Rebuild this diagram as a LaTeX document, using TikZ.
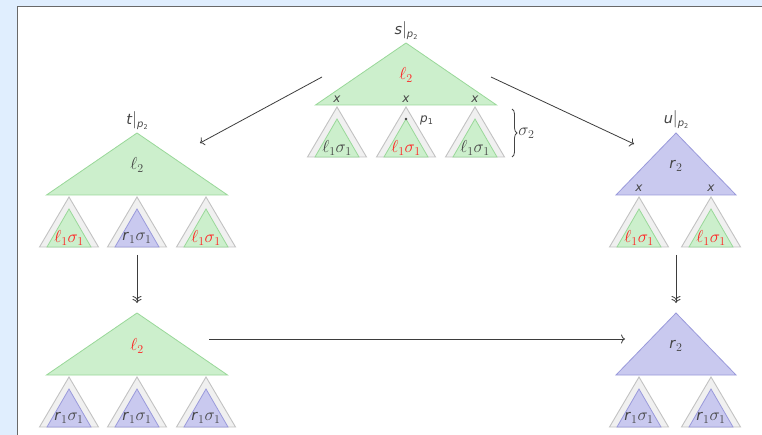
\documentclass[tikz,border=0pt]{standalone}
\usepackage{fontspec}
\setmainfont{DejaVu Sans}
\usetikzlibrary{decorations.pathreplacing,arrows.meta}
\definecolor{paneblue}{HTML}{E0EEFE}
\definecolor{lgreen}{HTML}{CCEFCC}
\definecolor{dgreen}{HTML}{99D899}
\definecolor{lblue}{HTML}{C9C9EF}
\definecolor{dblue}{HTML}{9A9ADB}
\definecolor{lgray}{HTML}{F0F0F0}
\definecolor{dgray}{HTML}{C2C2C2}
\definecolor{ink}{HTML}{444444}
\definecolor{hot}{HTML}{FF2222}
\newcommand{\M}[1]{{\fontsize{17}{19}\selectfont$#1$}}
\newcommand{\vx}{\textit{x}}
\newcommand{\lsig}{\M{\ell_1\sigma_1}}
\newcommand{\rsig}{\textit{r}\M{_1\sigma_1}}
\newcommand{\atpos}[1]{\textit{#1}\M{|}\raisebox{-3pt}{\fontsize{10}{11}\selectfont\textit{p}\raisebox{-1.5pt}{\fontsize{6.5}{7}\selectfont 2}}}
% one substituted subterm: centre x, apex y, colour, label
\newcommand{\subterm}[4]{%
  \draw[outer] (#1,#2) -- ++(-29.5,50) -- ++(59,0) -- cycle;
  \draw[#3] (#1,#2+12) -- ++(-22,38) -- ++(44,0) -- cycle;
  \node[lab] at (#1,#2+41) {#4};}

\begin{document}
\begin{tikzpicture}[x=1pt, y=-1pt,
  outer/.style={fill=lgray, draw=dgray, line width=0.9pt},
  greentri/.style={fill=lgreen, draw=dgreen, line width=0.8pt},
  bluetri/.style={fill=lblue, draw=dblue, line width=0.8pt},
  lab/.style={font=\fontsize{14.5}{17}\selectfont, text=ink, inner sep=1pt},
  var/.style={font=\fontsize{12}{14}\selectfont, text=ink, inner sep=1pt},
  tip/.tip={To[length=4pt, width=9pt]},
  step arrow/.style={-tip, draw=ink!90!black, line width=0.8pt},
  rew arrow/.style={-{tip[sep=-1pt]tip}, draw=ink!90!black, line width=0.8pt}
]
\useasboundingbox (0,0) rectangle (762,435);
\fill[paneblue] (0,0) rectangle (762,435);
\draw[fill=white, draw=ink!80, line width=1pt] (17,7) rectangle (780,450);

% s|p2 at the top
\draw[greentri] (406,43) -- ++(-90.5,62) -- ++(181,0) -- cycle;
\node[lab] (s) at (406,31) {\atpos{s}};
\node[lab, text=hot] (s2) at (406,75) {\M{\ell_2}};
\foreach \cx in {337,406,475} \node[var] at (\cx,99) {\vx};
\subterm{337}{107}{greentri}{\lsig}
\subterm{406}{107}{greentri}{\textcolor{hot}{\lsig}}
\subterm{475}{107}{greentri}{\lsig}
\fill[ink] (406,119) circle (1.3pt);
\node[var, anchor=west] (p1) at (419,120) {\textit{p}\raisebox{-2pt}{\fontsize{8}{9}\selectfont 1}};
\draw[decorate, decoration={brace, amplitude=5pt}, ink, line width=0.8pt]
  (512,109) -- (512,157) node[midway, right=6pt, lab, inner sep=0pt] {\M{\sigma_2}};

% t|p2 on the left
\draw[greentri] (137,133) -- ++(-90.5,62) -- ++(181,0) -- cycle;
\node[lab] (t) at (137,121) {\atpos{t}};
\node[lab] (t2) at (137,165) {\M{\ell_2}};
\subterm{69}{197}{greentri}{\textcolor{hot}{\lsig}}
\subterm{137}{197}{bluetri}{\rsig}
\subterm{206}{197}{greentri}{\textcolor{hot}{\lsig}}

% u|p2 on the right
\draw[bluetri] (676,133) -- ++(-60,62) -- ++(120,0) -- cycle;
\node[lab] (u) at (676,120) {\atpos{u}};
\node[lab] (u2) at (676,166) {\textit{r}\M{_2}};
\foreach \cx in {639,711} \node[var] at (\cx,188) {\vx};
\subterm{639}{197}{greentri}{\textcolor{hot}{\lsig}}
\subterm{711}{197}{greentri}{\textcolor{hot}{\lsig}}

% common reduct on the left
\draw[greentri] (137,313) -- ++(-90.5,62) -- ++(181,0) -- cycle;
\node[lab, text=hot] (v2) at (137,346) {\M{\ell_2}};
\subterm{69}{377}{bluetri}{\rsig}
\subterm{137}{377}{bluetri}{\rsig}
\subterm{206}{377}{bluetri}{\rsig}

% common reduct on the right
\draw[bluetri] (676,313) -- ++(-60,62) -- ++(120,0) -- cycle;
\node[lab] (w2) at (676,346) {\textit{r}\M{_2}};
\subterm{639}{377}{bluetri}{\rsig}
\subterm{711}{377}{bluetri}{\rsig}

% arrows
\coordinate (sL) at (322,77);
\coordinate (sR) at (491,77);
\coordinate (tIn) at (200,143);
\coordinate (uIn) at (634,144);
\coordinate (tOut) at (137,255);
\coordinate (vIn) at (137,303);
\coordinate (uOut) at (676,255);
\coordinate (wIn) at (676,303);
\coordinate (vOut) at (209,339);
\coordinate (wL) at (625,339);
\draw[step arrow] (sL) -- (tIn);
\draw[step arrow] (sR) -- (uIn);
\draw[rew arrow] (tOut) -- (vIn);
\draw[rew arrow] (uOut) -- (wIn);
\draw[step arrow] (vOut) -- (wL);
\end{tikzpicture}
\end{document}
